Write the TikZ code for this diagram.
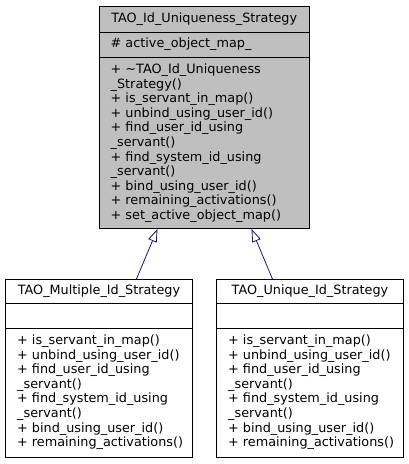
\documentclass[tikz,border=0pt]{standalone}
\usepackage{fontspec}
\setmainfont{DejaVu Sans}
\usetikzlibrary{arrows.meta}
\definecolor{boxgray}{RGB}{191,191,191}
\definecolor{edgeblue}{RGB}{25,25,112}
\begin{document}
\begin{tikzpicture}[x=1pt,y=-1pt,
  classbox/.style={draw=black, line width=0.9pt, inner sep=0pt, anchor=north west},
  ctext/.style={inner sep=0pt, font=\fontsize{12.8}{14.5}\selectfont},
  mtext/.style={inner sep=0pt, anchor=north west, align=left, font=\fontsize{12.8}{14.6}\selectfont},
  sep/.style={draw=black, line width=0.9pt},
  inherit/.style={draw=edgeblue, line width=0.8pt, -{Triangle[open, length=13pt, width=9pt, fill=white]}}]
\useasboundingbox (0,0) rectangle (408,464);
% base class
\node[classbox, fill=boxgray, minimum width=210.5pt, minimum height=222.5pt] (base) at (98.5,5.5) {};
\draw[sep] ([yshift=-26.5pt]base.north west) -- ([yshift=-26.5pt]base.north east);
\draw[sep] ([yshift=-51.5pt]base.north west) -- ([yshift=-51.5pt]base.north east);
\node[ctext] (basename) at ([yshift=-13.5pt]base.north) {TAO\_Id\_Uniqueness\_Strategy};
\node[mtext] (baseattr) at ([xshift=12pt,yshift=-32.5pt]base.north west) {\# active\_object\_map\_};
\node[mtext] (basemeth) at ([xshift=12pt,yshift=-58pt]base.north west) {+ \textasciitilde TAO\_Id\_Uniqueness\\\_Strategy()\\+ is\_servant\_in\_map()\\+ unbind\_using\_user\_id()\\+ find\_user\_id\_using\\\_servant()\\+ find\_system\_id\_using\\\_servant()\\+ bind\_using\_user\_id()\\+ remaining\_activations()\\+ set\_active\_object\_map()};
% left derived
\node[classbox, fill=white, minimum width=187pt, minimum height=178pt] (multi) at (5,279) {};
\draw[sep] ([yshift=-24.5pt]multi.north west) -- ([yshift=-24.5pt]multi.north east);
\draw[sep] ([yshift=-49.5pt]multi.north west) -- ([yshift=-49.5pt]multi.north east);
\node[ctext] (multiname) at ([yshift=-12.5pt]multi.north) {TAO\_Multiple\_Id\_Strategy};
\node[mtext] (multimeth) at ([xshift=12pt,yshift=-55.5pt]multi.north west) {+ is\_servant\_in\_map()\\+ unbind\_using\_user\_id()\\+ find\_user\_id\_using\\\_servant()\\+ find\_system\_id\_using\\\_servant()\\+ bind\_using\_user\_id()\\+ remaining\_activations()};
% right derived
\node[classbox, fill=white, minimum width=187pt, minimum height=178pt] (uniq) at (216,279) {};
\draw[sep] ([yshift=-24.5pt]uniq.north west) -- ([yshift=-24.5pt]uniq.north east);
\draw[sep] ([yshift=-49.5pt]uniq.north west) -- ([yshift=-49.5pt]uniq.north east);
\node[ctext] (uniqname) at ([yshift=-12.5pt]uniq.north) {TAO\_Unique\_Id\_Strategy};
\node[mtext] (uniqmeth) at ([xshift=12pt,yshift=-55.5pt]uniq.north west) {+ is\_servant\_in\_map()\\+ unbind\_using\_user\_id()\\+ find\_user\_id\_using\\\_servant()\\+ find\_system\_id\_using\\\_servant()\\+ bind\_using\_user\_id()\\+ remaining\_activations()};
% inheritance
\draw[inherit] ([xshift=37.5pt]multi.north) -- ([xshift=-46.7pt]base.south);
\draw[inherit] ([xshift=-37.5pt]uniq.north) -- ([xshift=47.3pt]base.south);
\end{tikzpicture}
\end{document}
